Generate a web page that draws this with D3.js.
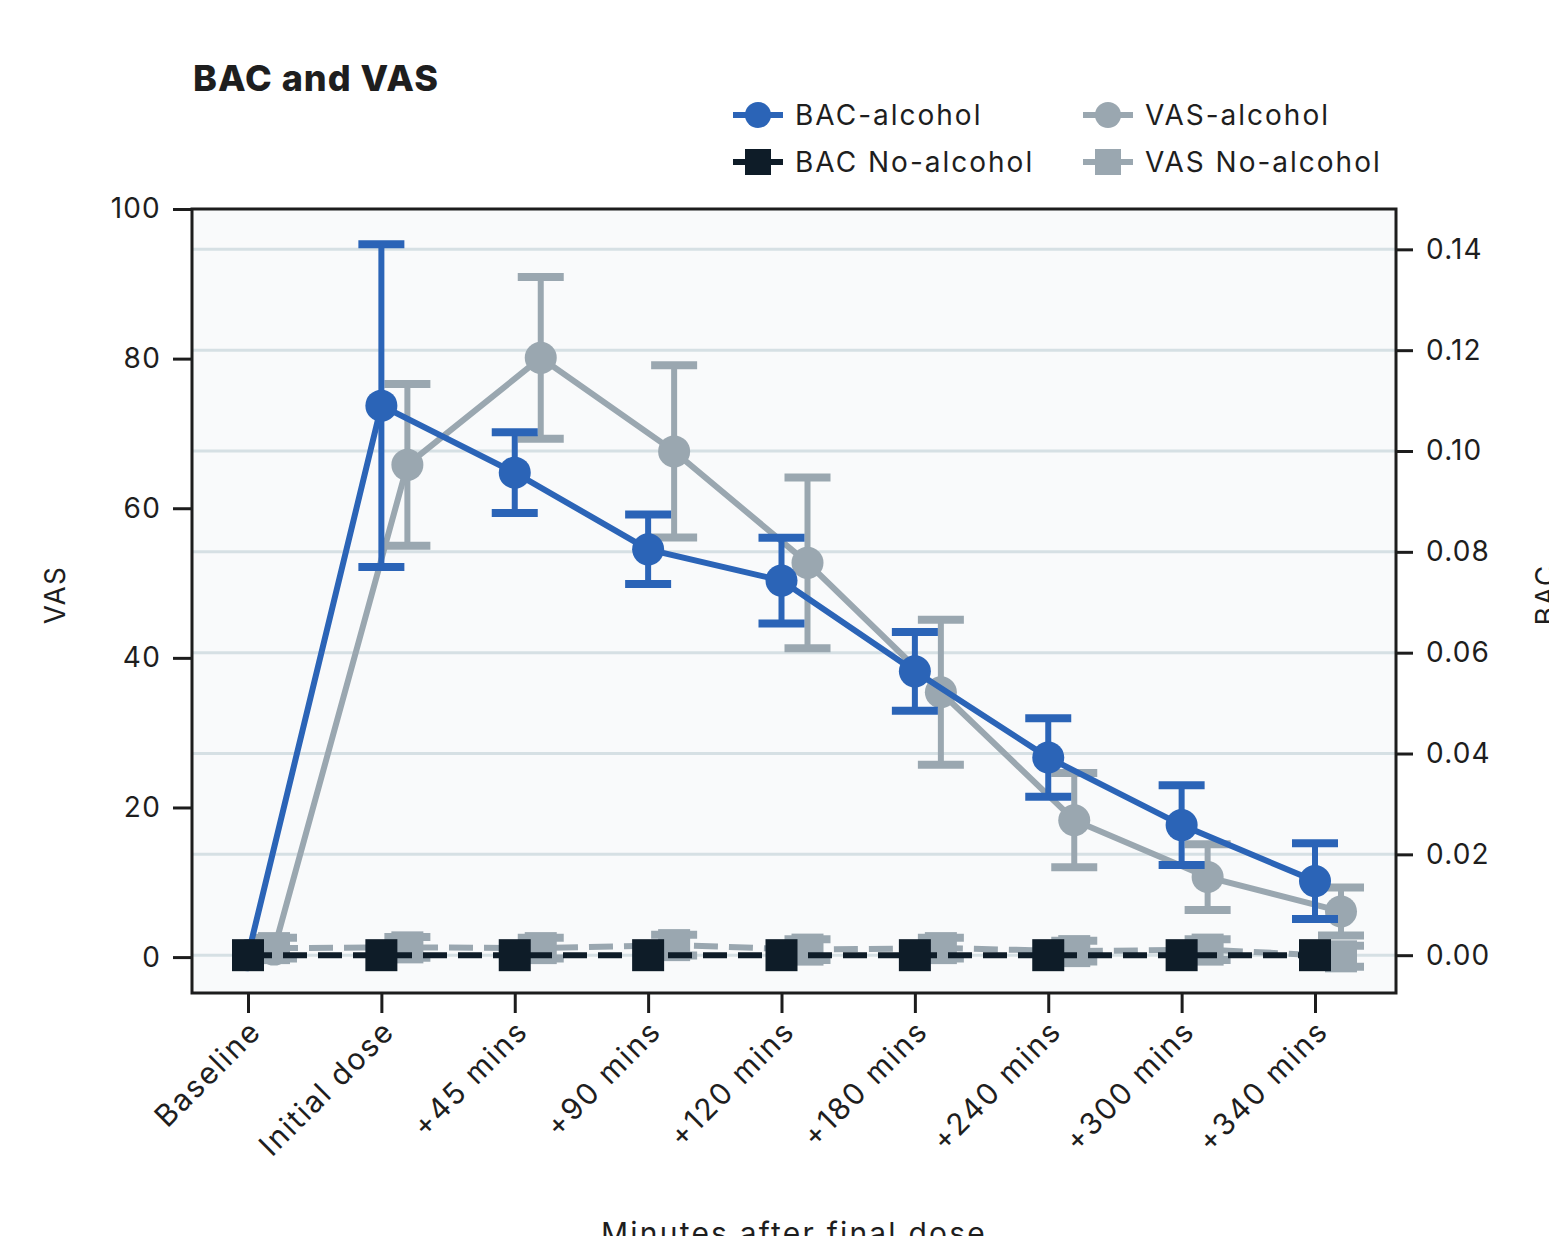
<!DOCTYPE html>
<html><head><meta charset="utf-8">
<script src="https://cdn.jsdelivr.net/npm/d3@7"></script>
<style>
html,body{margin:0;padding:0;background:#fff;}
text{font-family:Inter,"Noto Sans",sans-serif;fill:#1e1e1e;}
</style></head>
<body><svg id="chart" width="1549" height="1236"></svg>
<script>
const categories = ["Baseline","Initial dose","+45 mins","+90 mins","+120 mins","+180 mins","+240 mins","+300 mins","+340 mins"];
const bacAlcohol      = [0, 0.109, 0.0957, 0.0805, 0.0743, 0.0563, 0.0392, 0.0258, 0.0147];
const bacAlcoholErr   = [0, 0.032, 0.0080, 0.0069, 0.0085, 0.0078, 0.0078, 0.0079, 0.0075];
const bacNoAlcohol    = [0, 0, 0, 0, 0, 0, 0, 0, 0];
const vasAlcohol      = [1.0, 65.8, 80.1, 67.6, 52.7, 35.4, 18.3, 10.7, 6.1];
const vasAlcoholErr   = [0, 10.8, 10.8, 11.5, 11.4, 9.7, 6.3, 4.4, 3.2];
const vasNoAlcohol    = [1.2, 1.3, 1.2, 1.6, 1.0, 1.2, 0.8, 1.0, 0.1];
const vasNoAlcoholErr = [1.4, 1.4, 1.4, 1.4, 1.4, 1.4, 1.4, 1.4, 1.4];
const vasTicks = [0, 20, 40, 60, 80, 100];
const bacTicks = [0, 0.02, 0.04, 0.06, 0.08, 0.10, 0.12, 0.14];
const title = "BAC and VAS";
const xLabel = "Minutes after final dose";
const legendItems = [
  {name:"BAC-alcohol", color:"#2b64b7", shape:"circle"},
  {name:"VAS-alcohol", color:"#9aa7b0", shape:"circle"},
  {name:"BAC No-alcohol", color:"#0e1c28", shape:"square"},
  {name:"VAS No-alcohol", color:"#9aa7b0", shape:"square"}
];

const C = {blue:"#2b64b7", gray:"#9aa7b0", black:"#0e1c28"};
const L = 192, R = 1396, T = 209, B = 993;
const svg = d3.select("#chart");

const x = d3.scalePoint().domain(categories).range([L + 56, R - 81]);
const dodge = 26;
const yL = d3.scaleLinear().domain([-4.8, 100]).range([B, T]);
const yR = d3.scaleLinear().domain([-0.0075, 0.148]).range([B, T]);

svg.append("rect").attr("x", L).attr("y", T).attr("width", R - L).attr("height", B - T).attr("fill", "#f9fafb");
svg.append("g").selectAll("line").data(bacTicks).join("line")
  .attr("x1", L).attr("x2", R).attr("y1", d => yR(d)).attr("y2", d => yR(d))
  .attr("stroke", "#d6e0e4").attr("stroke-width", 3);

function series(vals, errs, xs, ys, color, shape, dashed) {
  const g = svg.append("g");
  const pts = vals.map((v, i) => ({x: xs(categories[i]), v, e: errs ? errs[i] : 0}));
  const line = d3.line().x(d => d.x).y(d => ys(d.v));
  g.append("path").datum(pts).attr("d", line).attr("fill", "none")
    .attr("stroke", color).attr("stroke-width", 6)
    .attr("stroke-dasharray", dashed ? "24,11" : null);
  if (errs) {
    const eb = g.selectAll("g.eb").data(pts.filter(d => d.e > 0)).join("g");
    eb.append("line").attr("x1", d => d.x).attr("x2", d => d.x)
      .attr("y1", d => ys(d.v - d.e)).attr("y2", d => ys(d.v + d.e))
      .attr("stroke", color).attr("stroke-width", 6);
    [-1, 1].forEach(s => {
      eb.append("line").attr("x1", d => d.x - 23).attr("x2", d => d.x + 23)
        .attr("y1", d => ys(d.v + s * d.e)).attr("y2", d => ys(d.v + s * d.e))
        .attr("stroke", color).attr("stroke-width", 8);
    });
  }
  if (shape === "circle") {
    g.selectAll("circle").data(pts).join("circle")
      .attr("cx", d => d.x).attr("cy", d => ys(d.v)).attr("r", 16).attr("fill", color);
  } else {
    g.selectAll("rect.m").data(pts).join("rect").attr("class", "m")
      .attr("x", d => d.x - 16).attr("y", d => ys(d.v) - 16)
      .attr("width", 32).attr("height", 32).attr("fill", color);
  }
}
const xV = c => x(c) + dodge;
const xB = c => x(c);
series(vasAlcohol, vasAlcoholErr, xV, yL, C.gray, "circle", false);
series(vasNoAlcohol, vasNoAlcoholErr, xV, yL, C.gray, "square", true);
series(bacAlcohol, bacAlcoholErr, xB, yR, C.blue, "circle", false);
series(bacNoAlcohol, null, xB, yR, C.black, "square", true);

svg.append("rect").attr("x", L).attr("y", T).attr("width", R - L).attr("height", B - T)
  .attr("fill", "none").attr("stroke", "#1d1d1d").attr("stroke-width", 3);

const fs = "28px", ls = "1.2px";
const gl = svg.append("g").attr("transform", `translate(${L},0)`)
  .call(d3.axisLeft(yL).tickValues(vasTicks).tickSize(19).tickPadding(12).tickFormat(d3.format("d")));
gl.select(".domain").remove();
gl.selectAll(".tick line").attr("stroke", "#1d1d1d").attr("stroke-width", 3);
gl.selectAll(".tick text").style("font-size", fs).style("letter-spacing", ls).attr("fill", "#1e1e1e");

const gr = svg.append("g").attr("transform", `translate(${R},0)`)
  .call(d3.axisRight(yR).tickValues(bacTicks).tickSize(17).tickPadding(13).tickFormat(d3.format(".2f")));
gr.select(".domain").remove();
gr.selectAll(".tick line").attr("stroke", "#1d1d1d").attr("stroke-width", 3);
gr.selectAll(".tick text").style("font-size", fs).style("letter-spacing", ls).attr("fill", "#1e1e1e");

const gb = svg.append("g").attr("transform", `translate(0,${B})`)
  .call(d3.axisBottom(x).tickSize(20).tickFormat(""));
gb.select(".domain").remove();
gb.selectAll(".tick line").attr("stroke", "#1d1d1d").attr("stroke-width", 3);
svg.append("g").selectAll("text").data(categories).join("text")
  .attr("transform", d => `translate(${x(d) + 15},${B + 40}) rotate(-45)`)
  .attr("text-anchor", "end").style("font-size", "30px").style("letter-spacing", "2px").text(d => d);

svg.append("text").attr("transform", `translate(65,595) rotate(-90)`)
  .attr("text-anchor", "middle").style("font-size", fs).style("letter-spacing", ls).text("VAS");
svg.append("text").attr("transform", `translate(1556,595) rotate(-90)`)
  .attr("text-anchor", "middle").style("font-size", fs).style("letter-spacing", ls).text("BAC");
svg.append("text").attr("x", 794).attr("y", 1244)
  .attr("text-anchor", "middle").style("font-size", "30px").style("letter-spacing", "2.2px").text(xLabel);

svg.append("text").attr("x", 193).attr("y", 91).style("font-size", "36px")
  .style("letter-spacing", "1px")
  .style("font-weight", 800).attr("fill", "#1e1e1e").text(title);

const lg = svg.append("g");
legendItems.forEach((it, i) => {
  const col = i % 2, row = Math.floor(i / 2);
  const cx = 758 + col * 350, cy = 115 + row * 47;
  const g = lg.append("g").attr("transform", `translate(${cx},${cy})`);
  g.append("line").attr("x1", -25).attr("x2", 25).attr("stroke", it.color).attr("stroke-width", 6);
  if (it.shape === "circle") g.append("circle").attr("r", 13).attr("fill", it.color);
  else g.append("rect").attr("x", -13).attr("y", -13).attr("width", 26).attr("height", 26).attr("fill", it.color);
  g.append("text").attr("x", 37).attr("y", 10).style("font-size", fs).style("letter-spacing", "2px").text(it.name);
});
</script></body></html>
